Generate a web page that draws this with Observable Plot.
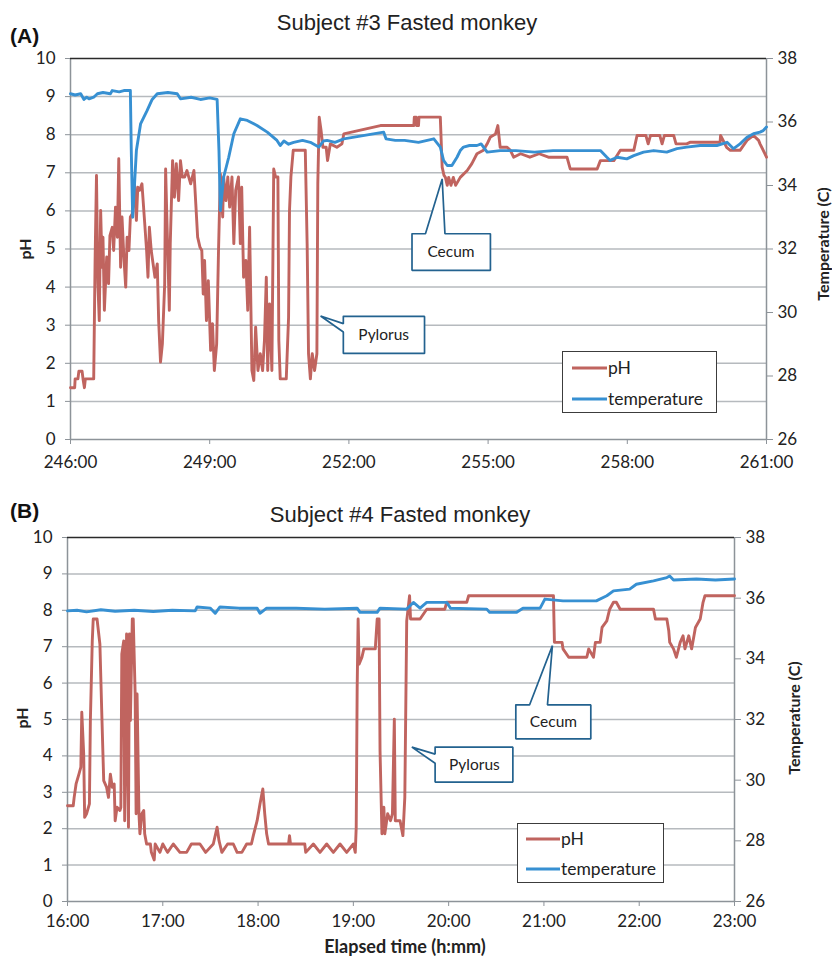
<!DOCTYPE html>
<html>
<head>
<meta charset="utf-8">
<script src="https://cdn.jsdelivr.net/npm/d3@7"></script>
<script src="https://cdn.jsdelivr.net/npm/@observablehq/plot@0.6"></script>
<style>
  body { margin: 0; background: #fff; }
  #c { position: relative; width: 832px; height: 957px; overflow: hidden; font-family: Lato, "Open Sans", sans-serif; color: #222; }
  .abs { position: absolute; white-space: nowrap; }
  .title { font-family: "Liberation Sans", Arial, sans-serif; font-size: 22px; color: #222; transform: translate(-50%, -50%); }
  .letter { font-family: "Liberation Sans", Arial, sans-serif; font-weight: bold; font-size: 21px; color: #111; transform: translateY(-50%); }
  .vlab { font-weight: bold; font-size: 16px; color: #222; transform: translate(-50%, -50%) rotate(-90deg); }
  .xlab { font-weight: bold; font-size: 18px; color: #222; transform: translate(-50%, -50%); }
  .legend { position: absolute; border: 1px solid #3c3c3c; background: #fff; box-sizing: border-box; }
  .sw { position: absolute; height: 3px; transform: translateY(-50%); }
  .lt { position: absolute; font-size: 17.5px; color: #222; transform: translateY(-52%); white-space: nowrap; }
  .panel { position: absolute; left: 0; }
</style>
</head>
<body>
<div id="c"></div>
<script>
// ---------------- DATA ----------------
// Panel A: Subject #3, elapsed time in hours (246:00 to 261:00)
const phA = [
  [246.00,1.36],[246.09,1.36],[246.10,1.59],[246.16,1.59],[246.18,1.79],[246.25,1.79],[246.27,1.59],[246.30,1.36],[246.32,1.59],[246.50,1.59],
  [246.53,4.70],[246.56,6.93],[246.59,4.09],[246.62,3.12],[246.65,6.01],[246.68,4.52],[246.70,5.31],[246.73,3.39],[246.78,4.79],[246.82,4.09],
  [246.85,5.35],[246.90,5.57],[246.93,4.96],[246.97,6.10],[247.01,5.31],[247.04,7.37],[247.08,4.52],[247.11,5.84],[247.15,4.79],[247.19,4.00],
  [247.22,5.31],[247.26,4.96],[247.29,5.84],[247.33,5.92],[247.38,6.71],[247.42,5.75],[247.45,6.62],[247.49,6.54],[247.54,6.71],[247.59,5.84],
  [247.64,4.96],[247.67,4.26],[247.70,5.57],[247.74,4.96],[247.78,4.61],[247.82,4.26],[247.87,4.61],[247.90,3.12],[247.94,2.03],[247.98,2.51],
  [248.03,4.09],[248.05,7.10],[248.08,5.66],[248.13,3.39],[248.15,5.14],[248.20,7.32],[248.24,6.36],[248.28,7.24],[248.33,6.27],[248.37,7.32],
  [248.41,6.89],[248.46,6.89],[248.51,7.06],[248.59,6.71],[248.66,7.06],[248.70,6.19],[248.74,5.31],[248.79,5.05],[248.83,4.96],[248.86,3.82],
  [248.89,4.70],[248.93,3.12],[248.97,4.17],[249.02,2.34],[249.06,3.04],[249.10,1.81],[249.15,2.51],[249.19,4.96],[249.23,6.97],[249.28,5.84],
  [249.30,6.89],[249.35,6.27],[249.39,6.89],[249.43,6.10],[249.48,6.89],[249.52,5.14],[249.56,6.54],[249.62,6.89],[249.66,5.14],[249.69,6.62],
  [249.73,4.26],[249.78,4.70],[249.82,3.39],[249.86,5.57],[249.91,1.81],[249.95,1.55],[249.99,2.95],[250.04,1.81],[250.09,2.25],[250.14,1.81],
  [250.18,2.60],[250.22,4.26],[250.25,1.81],[250.29,3.56],[250.34,1.81],[250.38,7.10],[250.42,6.89],[250.47,6.89],[250.49,2.60],[250.52,1.59],
  [250.65,1.59],[250.70,3.21],[250.72,6.01],[250.75,6.89],[250.80,7.59],[251.06,7.59],[251.10,5.14],[251.13,2.25],[251.17,1.59],[251.21,2.25],
  [251.26,1.81],[251.31,2.25],[251.33,6.71],[251.36,8.46],[251.40,8.11],[251.44,7.67],[251.51,7.67],[251.54,7.32],[251.60,7.76],[251.74,7.67],
  [251.85,7.76],[251.89,8.02],[252.68,8.24],[253.40,8.24],[253.41,8.46],[253.45,8.46],[253.46,8.24],[253.50,8.24],[253.51,8.46],[253.97,8.46],
  [254.01,7.15],[254.05,6.93],[254.08,6.88],[254.12,6.67],[254.15,6.88],[254.20,6.67],[254.25,6.88],[254.30,6.67],[254.40,6.88],[254.55,7.06],
  [254.65,7.24],[254.76,7.50],[254.90,7.59],[254.98,7.76],[255.05,7.94],[255.16,8.02],[255.21,8.24],[255.26,7.67],[255.41,7.67],[255.48,7.59],
  [255.55,7.41],[255.70,7.50],[255.90,7.41],[256.10,7.50],[256.30,7.41],[256.50,7.41],[256.70,7.41],[256.77,7.10],[257.35,7.10],[257.42,7.32],
  [257.71,7.32],[257.85,7.59],[258.14,7.59],[258.21,7.98],[258.40,7.98],[258.45,7.76],[258.50,7.98],[258.70,7.98],[258.75,7.76],[258.80,7.98],
  [259.00,7.98],[259.05,7.76],[259.28,7.76],[259.35,7.80],[260.00,7.80],[260.01,7.98],[260.14,7.67],[260.22,7.59],[260.43,7.59],[260.58,7.85],
  [260.72,7.98],[260.83,7.85],[260.86,7.76],[260.93,7.59],[261.00,7.41]
];
const tempA = [
  [246.00,36.89],[246.10,36.85],[246.22,36.89],[246.29,36.71],[246.35,36.78],[246.40,36.73],[246.50,36.78],[246.58,36.89],[246.70,36.93],[246.86,36.89],
  [246.90,36.99],[247.05,36.95],[247.15,36.99],[247.29,36.99],[247.31,35.10],[247.34,33.00],[247.38,34.05],[247.42,35.10],[247.51,35.94],[247.65,36.36],
  [247.76,36.71],[247.87,36.89],[248.10,36.93],[248.30,36.89],[248.37,36.73],[248.60,36.78],[248.80,36.71],[249.00,36.76],[249.16,36.71],[249.20,35.10],
  [249.23,33.21],[249.30,34.26],[249.41,34.89],[249.52,35.63],[249.66,36.10],[249.81,36.05],[250.02,35.89],[250.24,35.68],[250.45,35.42],[250.52,35.26],
  [250.60,35.40],[250.70,35.30],[250.81,35.36],[251.00,35.42],[251.17,35.36],[251.35,35.21],[251.45,35.40],[251.53,35.42],[251.70,35.36],[251.89,35.47],
  [252.75,35.68],[252.80,35.47],[253.00,35.42],[253.20,35.42],[253.50,35.36],[253.83,35.47],[253.97,35.21],[254.04,34.79],[254.12,34.63],[254.22,34.63],
  [254.33,34.89],[254.40,35.10],[254.47,35.21],[254.60,35.26],[254.76,35.26],[254.85,35.31],[254.98,35.05],[255.26,35.10],[255.60,35.10],[256.00,35.05],
  [256.40,35.10],[256.80,35.10],[257.20,35.10],[257.42,35.10],[257.56,34.89],[257.63,34.79],[257.78,34.89],[257.99,34.84],[258.14,34.94],[258.35,35.05],
  [258.57,35.10],[258.85,35.05],[259.07,35.16],[259.28,35.21],[259.57,35.26],[259.93,35.26],[260.15,35.36],[260.29,35.16],[260.43,35.31],[260.58,35.52],
  [260.72,35.63],[260.86,35.68],[260.93,35.73],[261.00,35.84]
];
// Panel B: Subject #4, elapsed time in hours (16:00 to 23:00)
const phB = [
  [16.00,2.63],[16.06,2.63],[16.07,2.86],[16.09,3.23],[16.12,3.50],[16.14,3.69],[16.15,5.20],[16.17,4.05],[16.18,2.31],[16.20,2.41],
  [16.23,2.68],[16.24,4.97],[16.26,7.16],[16.27,7.76],[16.31,7.76],[16.34,7.07],[16.36,5.15],[16.38,3.32],[16.41,3.14],[16.43,2.86],
  [16.45,3.50],[16.47,3.14],[16.49,3.23],[16.50,2.22],[16.52,2.59],[16.55,2.50],[16.56,2.59],[16.57,6.80],[16.59,7.16],[16.60,2.22],
  [16.62,7.35],[16.63,4.05],[16.64,2.04],[16.65,7.35],[16.66,4.97],[16.68,7.76],[16.69,7.76],[16.71,5.70],[16.72,2.41],[16.73,5.70],
  [16.75,2.41],[16.76,1.86],[16.78,2.41],[16.80,2.50],[16.81,1.86],[16.83,1.58],[16.87,1.58],[16.88,1.35],[16.91,1.14],[16.92,1.58],
  [16.97,1.35],[17.00,1.58],[17.05,1.35],[17.11,1.58],[17.18,1.35],[17.25,1.35],[17.30,1.58],[17.39,1.58],[17.45,1.35],[17.53,1.58],
  [17.57,2.04],[17.59,1.67],[17.62,1.35],[17.68,1.58],[17.74,1.58],[17.78,1.35],[17.83,1.35],[17.88,1.58],[17.93,1.58],[17.95,1.81],
  [17.99,2.22],[18.02,2.68],[18.05,3.09],[18.07,2.41],[18.09,1.86],[18.11,1.58],[18.32,1.58],[18.33,1.81],[18.34,1.58],[18.49,1.58],
  [18.50,1.35],[18.58,1.58],[18.65,1.35],[18.72,1.58],[18.79,1.35],[18.86,1.58],[18.93,1.35],[19.00,1.58],[19.02,1.35],[19.03,2.04],
  [19.04,5.88],[19.05,7.76],[19.06,6.52],[19.09,6.71],[19.11,6.94],[19.23,6.94],[19.25,7.76],[19.27,7.76],[19.28,4.14],[19.30,1.86],
  [19.32,2.59],[19.33,1.86],[19.36,2.41],[19.39,2.22],[19.41,2.41],[19.43,5.01],[19.44,2.22],[19.49,2.22],[19.52,1.81],[19.54,2.86],
  [19.56,7.71],[19.59,8.40],[19.60,7.76],[19.70,7.76],[19.77,8.03],[19.96,8.03],[19.98,8.22],[20.19,8.22],[20.21,8.40],[21.10,8.40],
  [21.11,7.12],[21.19,7.12],[21.20,6.94],[21.26,6.71],[21.45,6.71],[21.47,6.94],[21.52,6.71],[21.54,7.12],[21.59,7.12],[21.61,7.53],
  [21.66,7.71],[21.69,8.03],[21.73,8.22],[21.76,8.22],[21.80,8.03],[22.15,8.03],[22.17,7.76],[22.29,7.76],[22.31,7.44],[22.32,7.12],
  [22.36,6.94],[22.39,6.71],[22.43,7.12],[22.46,7.30],[22.48,6.94],[22.52,7.30],[22.55,6.94],[22.59,7.53],[22.64,7.76],[22.67,8.22],
  [22.69,8.40],[23.00,8.40]
];
const tempB = [
  [16.00,35.58],[16.10,35.60],[16.20,35.55],[16.35,35.62],[16.50,35.57],[16.70,35.60],[16.90,35.56],[17.10,35.60],[17.34,35.58],[17.36,35.71],
  [17.50,35.67],[17.55,35.50],[17.60,35.71],[17.80,35.67],[17.99,35.67],[18.02,35.50],[18.09,35.67],[18.40,35.67],[18.70,35.64],[19.04,35.67],
  [19.07,35.53],[19.25,35.53],[19.28,35.67],[19.56,35.64],[19.63,35.86],[19.70,35.67],[19.77,35.86],[19.98,35.86],[20.02,35.67],[20.40,35.64],
  [20.43,35.53],[20.71,35.53],[20.78,35.67],[20.96,35.67],[21.01,35.97],[21.20,35.91],[21.55,35.91],[21.66,36.08],[21.73,36.24],[21.90,36.30],
  [21.97,36.46],[22.15,36.57],[22.29,36.68],[22.32,36.73],[22.36,36.60],[22.60,36.63],[22.80,36.60],[23.00,36.63]
];
// Axis ticks
const phTicks = [0,1,2,3,4,5,6,7,8,9,10];
const tempTicks = [26,28,30,32,34,36,38];
const xTicksA = [246,249,252,255,258,261];
const xTicksB = [16,17,18,19,20,21,22,23];
// Callout annotations: label, label anchor (hours, pH), outline polygon (hours, pH)
const calloutsA = [
  {label: "Pylorus", at: [252.75, 2.75],
   shape: [[251.88,3.23],[253.63,3.23],[253.63,2.26],[251.88,2.26],[251.88,2.82],[251.39,3.24],[251.88,3.04],[251.88,3.23]]},
  {label: "Cecum", at: [254.2, 4.92],
   shape: [[253.36,5.40],[253.65,5.40],[254.01,6.84],[254.07,5.40],[255.05,5.40],[255.05,4.44],[253.36,4.44],[253.36,5.40]]}
];
const calloutsB = [
  {label: "Cecum", at: [21.10, 4.93],
   shape: [[20.705,5.40],[20.849,5.40],[21.089,7.03],[21.037,5.40],[21.492,5.40],[21.492,4.47],[20.705,4.47],[20.705,5.40]]},
  {label: "Pylorus", at: [20.27, 3.76],
   shape: [[19.858,4.24],[20.674,4.24],[20.674,3.28],[19.858,3.28],[19.858,3.80],[19.614,4.24],[19.858,4.05],[19.858,4.24]]}
];

// ---------------- DRAW ----------------
const RED = "#c0645f", BLUE = "#3790d2", AXIS = "#8d9399", GRID = "#b6babe", CALL = "#23628f";
const toY = t => (t - 26) / 1.2;          // temperature -> pH-axis position (26..38 over 0..10)
const hm = h => Math.floor(h) + ":00";

function panel(o) {
  const ph = o.ph.map(([t, v]) => ({t, v}));
  const tp = o.temp.map(([t, v]) => ({t, v: toY(v)}));
  const calloutMarks = o.callouts.flatMap(c => [
    Plot.line(c.shape, {x: d => d[0], y: d => d[1], stroke: CALL, strokeWidth: 1.7, fill: "white", strokeLinejoin: "miter"}),
    Plot.text([c], {x: d => d.at[0], y: d => d.at[1], text: "label", fontSize: 15.5, fill: "#222", fontFamily: "Lato, 'Open Sans', sans-serif"})
  ]);
  return Plot.plot({
    width: 832, height: o.height,
    marginLeft: o.ml, marginRight: o.mr, marginTop: o.mt, marginBottom: o.mb,
    style: {fontFamily: "Lato, 'Open Sans', sans-serif", fontSize: "17px", color: "#222", background: "white", overflow: "visible"},
    x: {domain: o.xDomain},
    y: {domain: [0, 10]},
    marks: [
      Plot.ruleY(phTicks.slice(1, -1), {stroke: GRID, strokeWidth: 1.5}),
      Plot.ruleY([0], {stroke: AXIS, strokeWidth: 1.5}),
      Plot.ruleX(o.xDomain, {stroke: AXIS, strokeWidth: 1.5}),
      Plot.ruleY([10], {stroke: "#2a2a2a", strokeWidth: 1.5}),
      Plot.axisY({anchor: "left", ticks: phTicks, tickSize: 5, tickPadding: o.lpad, stroke: AXIS, fill: "#222", fontSize: 17, label: null}),
      Plot.axisY({anchor: "right", ticks: tempTicks.map(toY), tickSize: 6, tickPadding: 5, tickFormat: d => String(Math.round(d * 1.2 + 26)), stroke: AXIS, fill: "#222", fontSize: 17, label: null}),
      Plot.axisX({anchor: "bottom", ticks: o.xTicks, tickSize: 5, tickPadding: o.xpad, tickFormat: hm, stroke: AXIS, fill: "#222", fontSize: 17, label: null}),
      Plot.line(ph, {x: "t", y: "v", stroke: RED, strokeWidth: 2.9, strokeLinejoin: "round"}),
      Plot.line(tp, {x: "t", y: "v", stroke: BLUE, strokeWidth: 2.9, strokeLinejoin: "round"}),
      ...calloutMarks
    ]
  });
}

const root = document.getElementById("c");
function addPanel(top, svg) {
  const d = document.createElement("div");
  d.className = "panel"; d.style.top = top + "px";
  d.appendChild(svg); root.appendChild(d);
}
function addText(cls, text, x, y) {
  const d = document.createElement("div");
  d.className = "abs " + cls; d.textContent = text;
  d.style.left = x + "px"; d.style.top = y + "px";
  root.appendChild(d);
}
function addLegend(x, y, w, h, rows) {
  const L = document.createElement("div");
  L.className = "legend";
  Object.assign(L.style, {left: x + "px", top: y + "px", width: w + "px", height: h + "px"});
  rows.forEach(r => {
    const s = document.createElement("div");
    s.className = "sw"; s.style.background = r.color;
    Object.assign(s.style, {left: r.sx + "px", width: r.sw + "px", top: r.y + "px"});
    const t = document.createElement("div");
    t.className = "lt"; t.textContent = r.label;
    Object.assign(t.style, {left: r.tx + "px", top: r.y + "px"});
    L.appendChild(s); L.appendChild(t);
  });
  root.appendChild(L);
}

addPanel(480, panel({ph: phB, temp: tempB, xDomain: [16, 23], xTicks: xTicksB, height: 477,
  ml: 67, mr: 98, mt: 57, mb: 56, lpad: 10, xpad: 8, callouts: calloutsB}));
addPanel(0, panel({ph: phA, temp: tempA, xDomain: [246, 261], xTicks: xTicksA, height: 478,
  ml: 70, mr: 66, mt: 58, mb: 39, lpad: 10, xpad: 11, callouts: calloutsA}));
document.querySelectorAll(".panel svg")[1].style.background = "transparent";

addText("title", "Subject #3 Fasted monkey", 407, 23);
addText("title", "Subject #4 Fasted monkey", 400, 515);
addText("letter", "(A)", 10, 36);
addText("letter", "(B)", 10, 511);
addText("vlab", "pH", 24, 249);
addText("vlab", "Temperature (C)", 822, 244);
addText("vlab", "pH", 21, 718);
addText("vlab", "Temperature (C)", 793, 718);
addText("xlab", "Elapsed time (h:mm)", 405, 946);

addLegend(562, 351, 155, 62, [
  {label: "pH", color: RED, sx: 9, sw: 35, tx: 45, y: 16},
  {label: "temperature", color: BLUE, sx: 9, sw: 35, tx: 45, y: 47}
]);
addLegend(517, 823, 147, 60, [
  {label: "pH", color: RED, sx: 8, sw: 34, tx: 43, y: 15},
  {label: "temperature", color: BLUE, sx: 8, sw: 34, tx: 43, y: 45}
]);
</script>
</body>
</html>
